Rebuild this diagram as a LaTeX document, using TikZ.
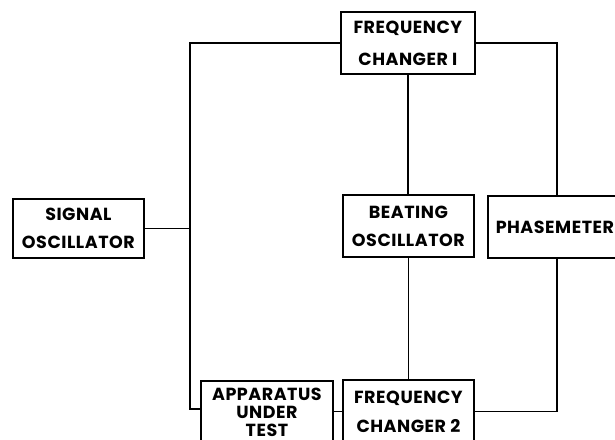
\documentclass[tikz,border=0pt]{standalone}
\usepackage{fontspec}
\newfontfamily\blkfont{Poppins}[LetterSpace=3]
\begin{document}
\begin{tikzpicture}[x=1pt,y=-1pt,
  blk/.style={draw, line width=1.8pt, anchor=north west, align=center, inner sep=0pt},
  con/.style={line width=1.8pt},
  txt/.style={font={\blkfont\bfseries\fontsize{17.5}{#1}\selectfont}}]
\useasboundingbox (0,0) rectangle (615,439);
\node[blk, txt=28, minimum width=131, minimum height=59] (sig) at (12,198) {SIGNAL\\OSCILLATOR};
\node[blk, txt=32, minimum width=134, minimum height=62] (fc1) at (340,11) {FREQUENCY\\CHANGER I};
\node[blk, txt=28, minimum width=131, minimum height=62] (beat) at (342,194) {BEATING\\OSCILLATOR};
\node[blk, txt=28, minimum width=134, minimum height=62] (phase) at (487,195) {PHASEMETER};
\node[blk, txt=18, minimum width=132, minimum height=62] (app) at (200,380) {APPARATUS\\UNDER\\TEST};
\node[blk, txt=29, minimum width=131, minimum height=63] (fc2) at (342,379) {FREQUENCY\\CHANGER 2};
\coordinate (jb) at (190,409);
\coordinate (pr) at (557,42);
\draw[con] (fc1.west) -| (jb) -- (app.west |- jb);
\draw[con] (sig.east) -- (sig.east -| jb);
\draw[con] (fc1.south) -- (fc1.south |- beat.north);
\draw[con] (beat.south) -- (beat.south |- fc2.north);
\draw[con] (fc1.east) -| (pr |- phase.north);
\draw[con] (pr |- phase.south) |- (fc2.east);
\draw[con] (app.east |- fc2.west) -- (fc2.west);
\end{tikzpicture}
\end{document}
